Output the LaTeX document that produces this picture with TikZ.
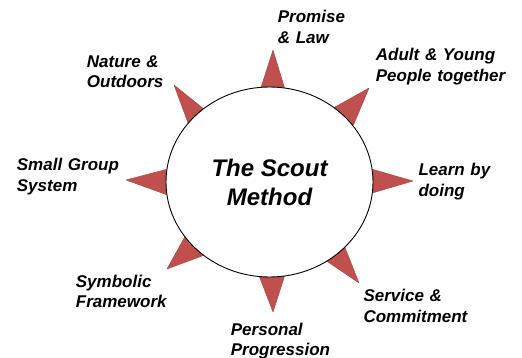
\documentclass[tikz,border=0pt]{standalone}
\usepackage{fontspec}
\setmainfont{Liberation Sans}
\usepackage{tikz}
\usetikzlibrary{shapes.geometric,backgrounds}

\definecolor{spikered}{HTML}{C0504D}

\begin{document}
\begin{tikzpicture}[x=1pt,y=1pt]
	\tikzstyle{every node}+=[inner sep=0pt]
	\tikzstyle{spike}=[fill=spikered, draw=spikered!85!black, line width=0.4pt, line join=round]
	\tikzstyle{lbl}=[anchor=base west, align=left, text width=150pt, font=\fontsize{17}{20.5}\selectfont\bfseries\itshape]
	\useasboundingbox (0,0) rectangle (522,-358);
	% the method
	\node [ellipse, draw=black, line width=0.9pt, fill=white, minimum width=207, minimum height=190, align=center, font=\fontsize{24}{29}\selectfont\bfseries\itshape] (method) at (269.5,-182) {The Scout\\Method};
	% tips of the spikes
	\coordinate (tipPromise) at (273,-50);
	\coordinate (tipAdults) at (369,-88);
	\coordinate (tipLearning) at (413,-181);
	\coordinate (tipService) at (359,-283);
	\coordinate (tipProgression) at (273,-312);
	\coordinate (tipSymbolic) at (167,-269);
	\coordinate (tipGroup) at (126,-180);
	\coordinate (tipNature) at (174,-85);
	\begin{pgfonlayer}{background}
		\filldraw [spike] (tipPromise) -- (method.95) -- (method.81) -- cycle;
		\filldraw [spike] (tipAdults) -- (method.49) -- (method.34) -- cycle;
		\filldraw [spike] (tipLearning) -- (method.7) -- (method.-6) -- cycle;
		\filldraw [spike] (tipService) -- (method.319) -- (method.306) -- cycle;
		\filldraw [spike] (tipProgression) -- (method.279) -- (method.264) -- cycle;
		\filldraw [spike] (tipSymbolic) -- (method.228) -- (method.213) -- cycle;
		\filldraw [spike] (tipGroup) -- (method.187) -- (method.173) -- cycle;
		\filldraw [spike] (tipNature) -- (method.144) -- (method.132) -- cycle;
	\end{pgfonlayer}
	% labels
	\node [lbl] (promise) at (277.7,-22.7) {Promise\\\& Law};
	\node [lbl] (adults) at (375.7,-60.7) {Adult \& Young\\People together};
	\node [lbl] (learning) at (418.3,-176) {Learn by\\doing};
	\node [lbl] (service) at (363.3,-301.7) {Service \&\\Commitment};
	\node [lbl] (progression) at (230.7,-335) {Personal\\Progression};
	\node [lbl] (symbolic) at (75.7,-287.3) {Symbolic\\Framework};
	\node [lbl] (smallgroup) at (16.7,-170.7) {Small Group\\System};
	\node [lbl] (nature) at (86.7,-67.3) {Nature \&\\Outdoors};
\end{tikzpicture}
\end{document}
